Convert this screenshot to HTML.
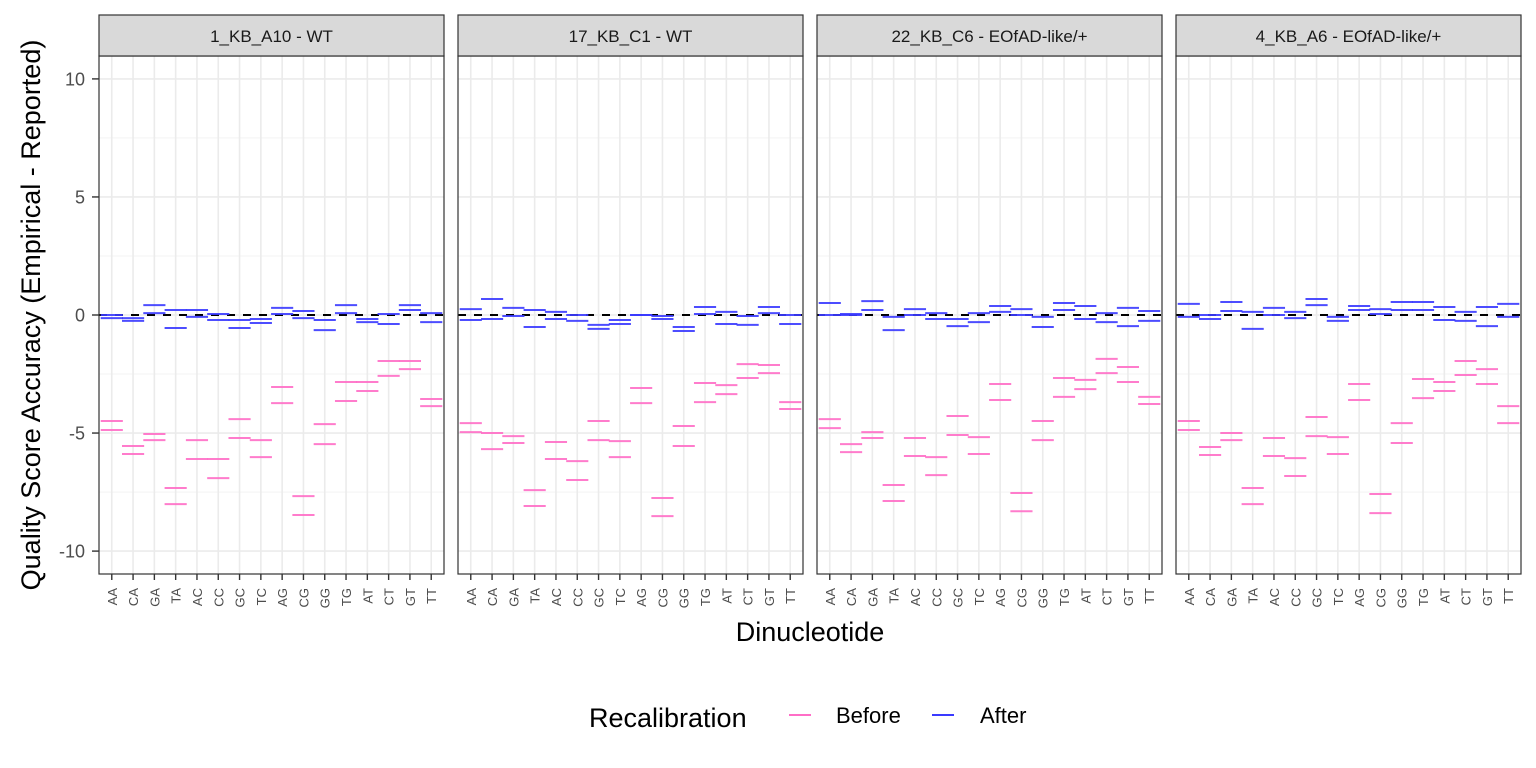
<!DOCTYPE html>
<html><head><meta charset="utf-8"><style>
body{margin:0;background:#fff;}
svg{display:block;font-family:"Liberation Sans",sans-serif;}
</style></head><body>
<svg id="chart" width="1536" height="768"></svg>
<script>
const categories=["AA","CA","GA","TA","AC","CC","GC","TC","AG","CG","GG","TG","AT","CT","GT","TT"];
const panelTitles=["1_KB_A10 - WT","17_KB_C1 - WT","22_KB_C6 - EOfAD-like/+","4_KB_A6 - EOfAD-like/+"];
const yTicks=[-10,-5,0,5,10];
const yTickLabels=["-10","-5","0","5","10"];
const before1a=[-4.49,-5.55,-5.04,-7.33,-5.30,-6.10,-4.41,-5.30,-3.05,-7.67,-4.62,-2.84,-2.84,-1.95,-1.95,-3.56];
const before1b=[-4.87,-5.89,-5.30,-8.01,-6.10,-6.91,-5.21,-6.02,-3.73,-8.47,-5.47,-3.64,-3.22,-2.58,-2.29,-3.86];
const after1a=[0.00,-0.13,0.42,0.21,0.21,0.04,-0.21,-0.17,0.30,0.17,-0.21,0.42,-0.17,0.04,0.42,0.08];
const after1b=[-0.13,-0.25,0.08,-0.55,-0.08,-0.21,-0.55,-0.34,0.04,-0.13,-0.64,0.08,-0.30,-0.38,0.21,-0.30];
const before2a=[-4.58,-5.00,-5.13,-7.42,-5.38,-6.19,-4.49,-5.34,-3.09,-7.75,-4.70,-2.88,-2.97,-2.08,-2.12,-3.69];
const before2b=[-4.96,-5.68,-5.42,-8.09,-6.10,-6.99,-5.30,-6.02,-3.73,-8.52,-5.55,-3.69,-3.35,-2.67,-2.46,-3.98];
const after2a=[0.25,0.68,0.30,0.21,0.13,0.00,-0.42,-0.21,0.00,-0.04,-0.51,0.34,0.13,-0.04,0.34,0.00];
const after2b=[-0.21,-0.17,-0.04,-0.51,-0.17,-0.25,-0.59,-0.38,0.00,-0.17,-0.68,0.04,-0.38,-0.42,0.08,-0.38];
const before3a=[-4.41,-5.47,-4.96,-7.20,-5.21,-6.02,-4.28,-5.17,-2.92,-7.54,-4.49,-2.67,-2.75,-1.86,-2.20,-3.47];
const before3b=[-4.79,-5.81,-5.21,-7.88,-5.97,-6.78,-5.08,-5.89,-3.60,-8.31,-5.30,-3.47,-3.14,-2.46,-2.84,-3.77];
const after3a=[0.51,0.04,0.59,-0.08,0.25,0.08,-0.17,0.08,0.38,0.25,-0.08,0.51,0.38,0.08,0.30,0.17];
const after3b=[0.00,0.00,0.21,-0.64,0.00,-0.17,-0.47,-0.30,0.13,0.00,-0.51,0.21,-0.17,-0.30,-0.47,-0.25];
const before4a=[-4.49,-5.59,-5.00,-7.33,-5.21,-6.06,-4.32,-5.17,-2.92,-7.58,-4.58,-2.71,-2.84,-1.95,-2.29,-3.86];
const before4b=[-4.87,-5.93,-5.30,-8.01,-5.97,-6.82,-5.13,-5.89,-3.60,-8.39,-5.42,-3.52,-3.22,-2.54,-2.92,-4.58];
const after4a=[0.47,0.00,0.55,0.13,0.30,0.13,0.68,-0.08,0.38,0.25,0.55,0.55,0.34,0.13,0.34,0.47];
const after4b=[-0.08,-0.17,0.17,-0.59,0.00,-0.13,0.42,-0.25,0.21,0.04,0.21,0.21,-0.21,-0.25,-0.47,-0.08];
const beforeSets=[[before1a,before1b],[before2a,before2b],[before3a,before3b],[before4a,before4b]];
const afterSets=[[after1a,after1b],[after2a,after2b],[after3a,after3b],[after4a,after4b]];

const NS="http://www.w3.org/2000/svg";
const svg=document.getElementById('chart');
function mk(tag,attrs,parent,text){const e=document.createElementNS(NS,tag);for(const k in attrs)e.setAttribute(k,attrs[k]);if(text!==undefined)e.textContent=text;(parent||svg).appendChild(e);return e;}
const panelX=[99,458,817,1176], PW=345, PT=56, PB=574;
const yMin=-10.97,yMax=10.97;
function yScale(v){return PB-(v-yMin)/(yMax-yMin)*(PB-PT);}
const step=PW/(categories.length-1+1.2);
function xScale(p,i){return panelX[p]+step*(0.6+i);}
const PINK="#ff6ec7",BLUE="#3a3aff";

for(let p=0;p<4;p++){
  const g=mk('g',{},svg);
  
  
  const x0=panelX[p];
  mk('rect',{x:x0,y:PT,width:PW,height:PB-PT,fill:'#fff'},g);
  for(let t=-10;t<=10;t+=2.5){if(t%5!==0)mk('line',{x1:x0,x2:x0+PW,y1:yScale(t),y2:yScale(t),stroke:'#f3f3f3','stroke-width':1},g);}
  yTicks.forEach(t=>mk('line',{x1:x0,x2:x0+PW,y1:yScale(t),y2:yScale(t),stroke:'#ebebeb','stroke-width':1.6},g));
  categories.forEach((c,i)=>mk('line',{x1:xScale(p,i),x2:xScale(p,i),y1:PT,y2:PB,stroke:'#ebebeb','stroke-width':1.6},g));
  const z=mk('line',{x1:x0,x2:x0+PW,y1:yScale(0),y2:yScale(0),stroke:'#000','stroke-width':2,'stroke-dasharray':'8,8'},g);
  
  
  const sets=[[beforeSets[p],PINK,'before'],[afterSets[p],BLUE,'after']];
  sets.forEach(([arrs,col,nm])=>{
    arrs.forEach(arr=>arr.forEach((v,i)=>{
      const xc=xScale(p,i),y=yScale(v);
      const l=mk('line',{x1:xc-step*0.52,x2:xc+step*0.52,y1:y,y2:y,stroke:col,'stroke-width':2,'stroke-opacity':0.9},g);
      
      
    }));
  });
  mk('rect',{x:x0,y:PT,width:PW,height:PB-PT,fill:'none',stroke:'#333','stroke-width':1.2},g);
  const s=mk('rect',{x:x0,y:15,width:PW,height:41,fill:'#d9d9d9',stroke:'#333','stroke-width':1.2},g);
  
  
  const st=mk('text',{x:x0+PW/2,y:42,'text-anchor':'middle','font-size':17,fill:'#1a1a1a'},g,panelTitles[p]);
  
  
  categories.forEach((c,i)=>{
    const x=xScale(p,i);
    mk('line',{x1:x,x2:x,y1:PB,y2:PB+6,stroke:'#333','stroke-width':1.4},g);
    const t=mk('text',{x:0,y:0,transform:`translate(${x+5},${PB+14}) rotate(-90)`,'text-anchor':'end','font-size':13,fill:'#4d4d4d'},g,c);
    
    
  });
}
yTicks.forEach((t,i)=>{
  mk('line',{x1:92,x2:99,y1:yScale(t),y2:yScale(t),stroke:'#333','stroke-width':1.4});
  const e=mk('text',{x:85,y:yScale(t)+6.5,'text-anchor':'end','font-size':18,fill:'#4d4d4d'},svg,yTickLabels[i]);
  
  
});
const yt=mk('text',{x:0,y:0,transform:'translate(40,315) rotate(-90)','text-anchor':'middle','font-size':27,fill:'#000'},svg,'Quality Score Accuracy (Empirical - Reported)');


const xt=mk('text',{x:810,y:641,'text-anchor':'middle','font-size':27,fill:'#000'},svg,'Dinucleotide');


const lg=mk('g',{},svg);


mk('text',{x:589,y:727,'font-size':27,fill:'#000'},lg,'Recalibration');
const k1=mk('line',{x1:789,x2:811,y1:715,y2:715,stroke:PINK,'stroke-width':2},lg);


mk('text',{x:836,y:723,'font-size':22,fill:'#000'},lg,'Before');
const k2=mk('line',{x1:932,x2:954,y1:715,y2:715,stroke:BLUE,'stroke-width':2},lg);


mk('text',{x:980,y:723,'font-size':22,fill:'#000'},lg,'After');
</script>
</body></html>
